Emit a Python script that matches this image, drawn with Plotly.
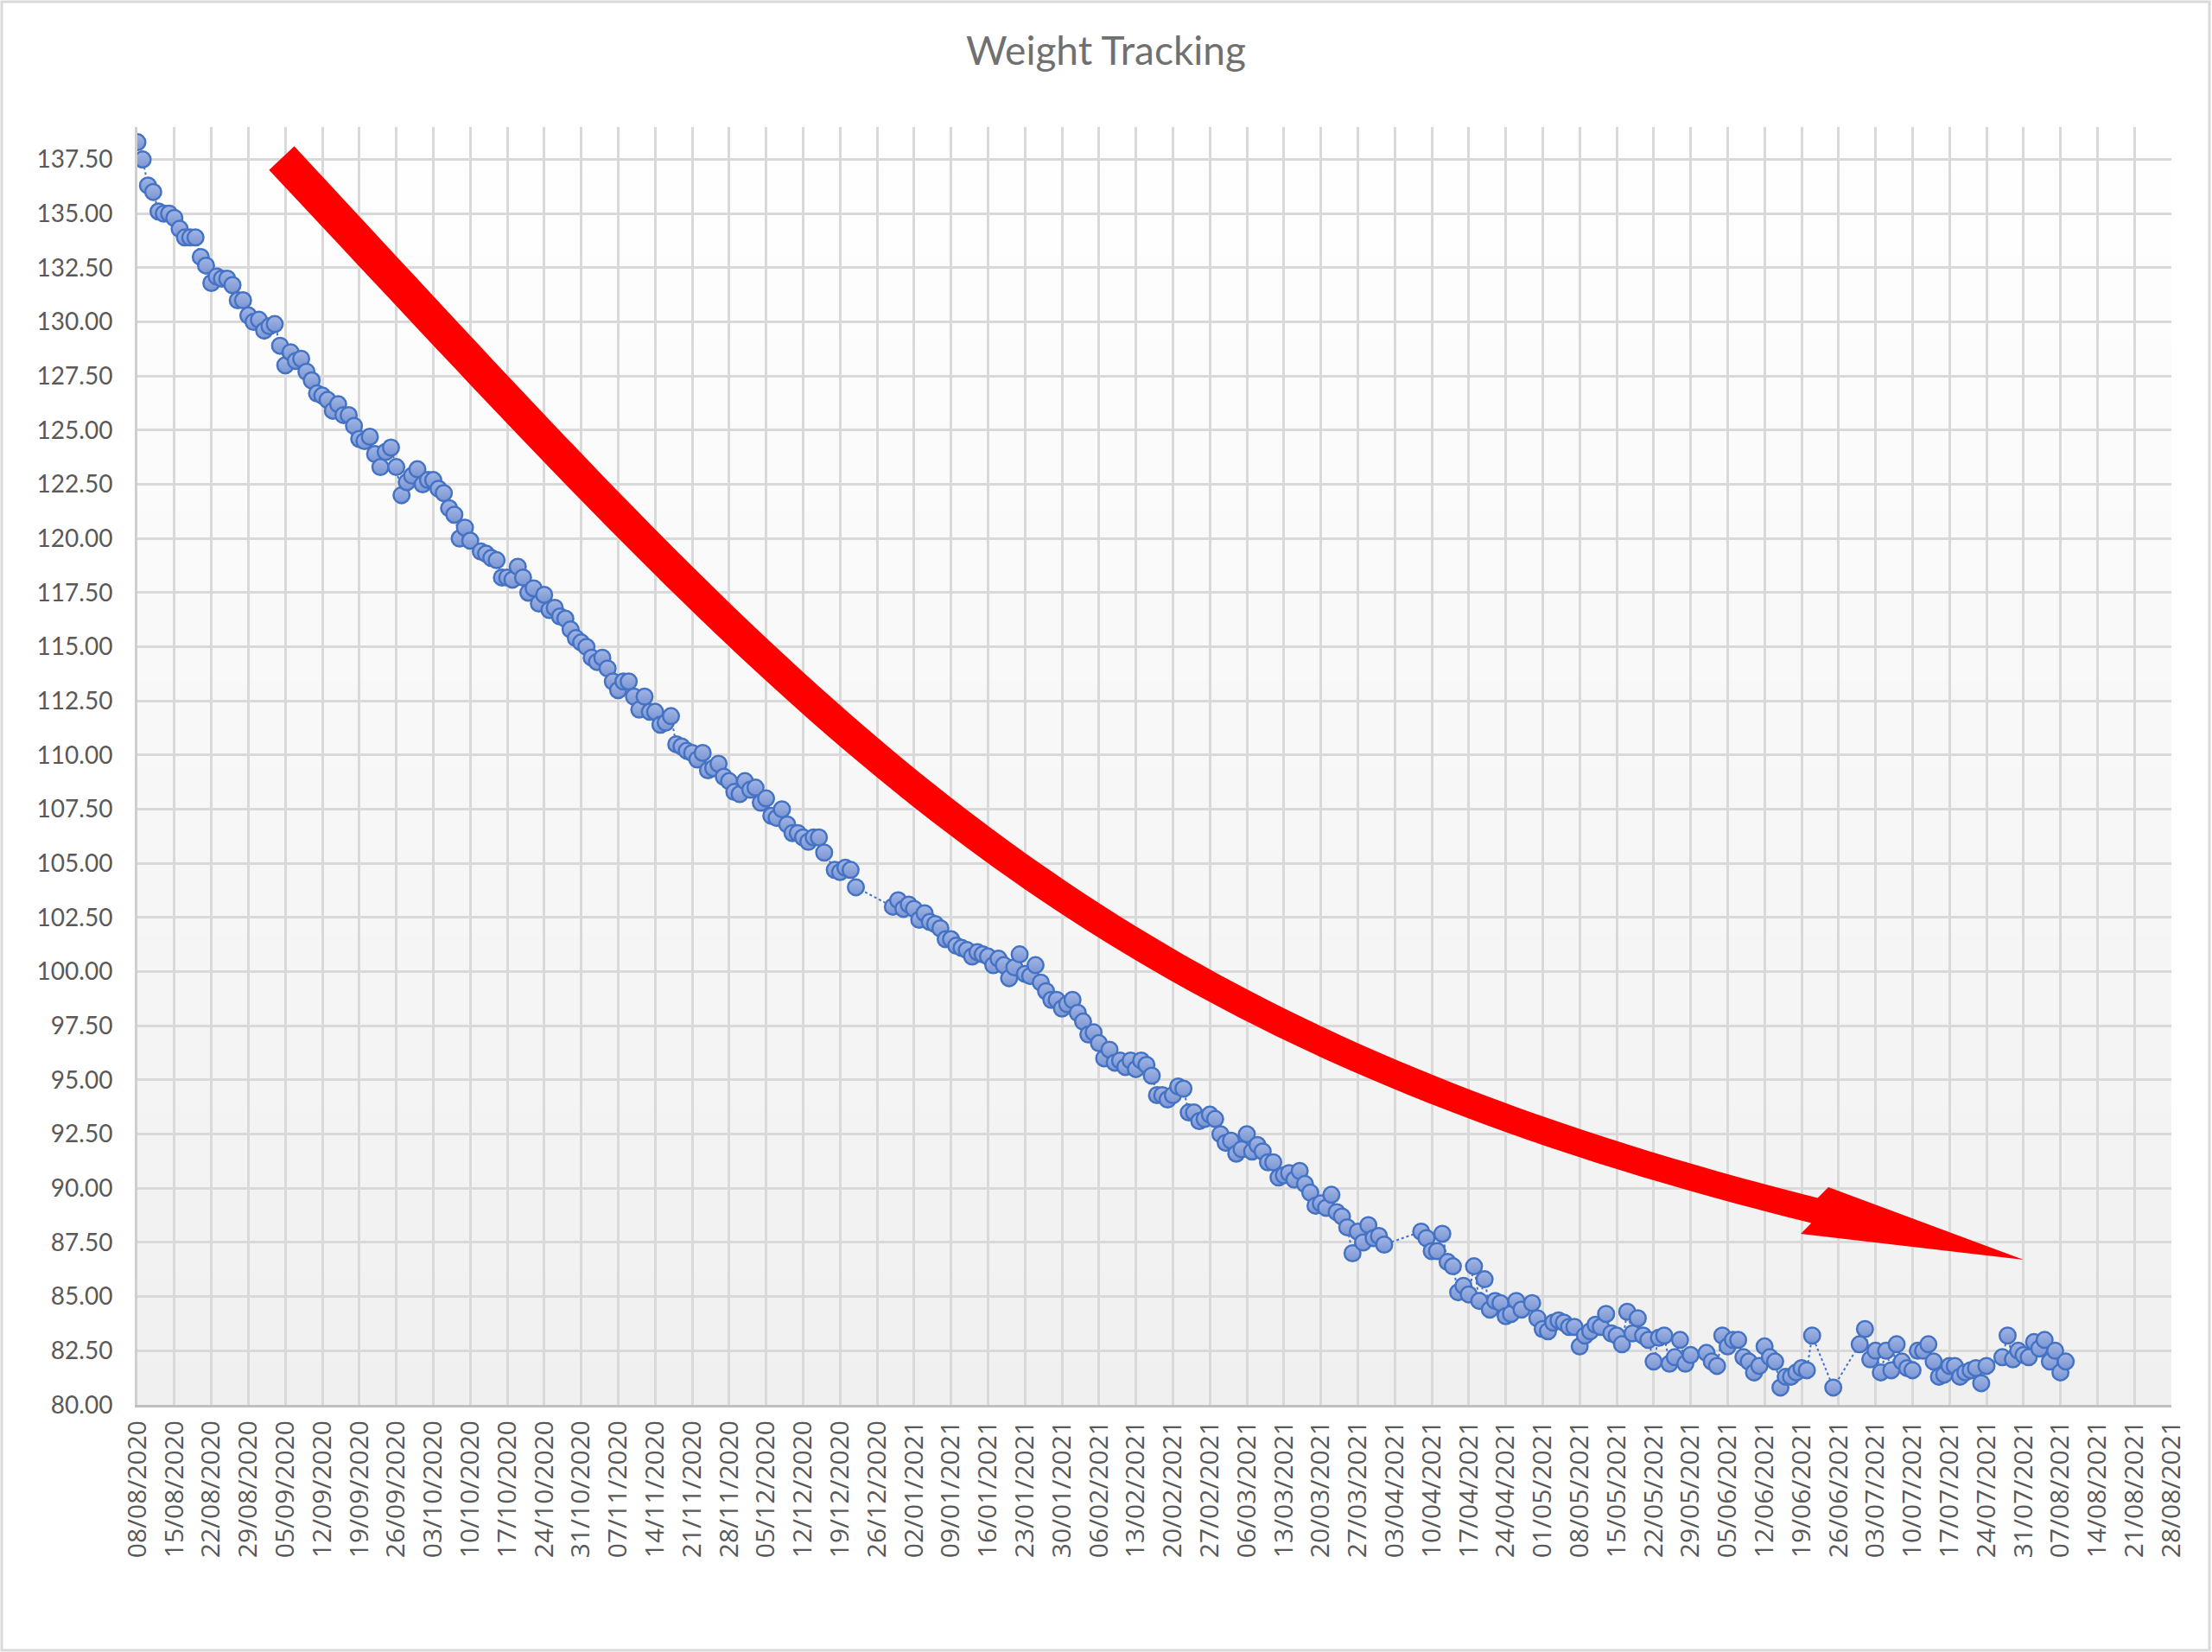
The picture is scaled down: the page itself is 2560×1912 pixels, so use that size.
import numpy as np
import pandas as pd
import plotly.graph_objects as go

# ---------------- data ----------------
start_date = "2020-08-08"
title_text = "Weight Tracking"
x_range = ["2020-08-08", "2021-08-28"]
y_range = [80, 139]
y_tick_step = 2.5
x_tick_days = 7

days_a = [0, 1, 2, 3, 4, 5, 6, 7, 8, 9, 10, 11, 12, 13, 14, 15, 16, 17, 18, 19,
          20, 21, 22, 23, 24, 25, 26, 27, 28, 29, 30, 31, 32, 33, 34, 35, 36, 37, 38, 39,
          40, 41, 42, 43, 44, 45, 46, 47, 48, 49, 50, 51, 52, 53, 54, 55, 56, 57, 58, 59,
          60, 61, 62, 63]
kg_a = [138.3, 137.5, 136.3, 136.0, 135.1, 135.0, 135.0, 134.8, 134.3, 133.9,
        133.9, 133.9, 133.0, 132.6, 131.8, 132.1, 132.0, 132.0, 131.7, 131.0,
        131.0, 130.3, 130.0, 130.1, 129.6, 129.8, 129.9, 128.9, 128.0, 128.6,
        128.2, 128.3, 127.7, 127.3, 126.7, 126.6, 126.4, 125.9, 126.2, 125.7,
        125.7, 125.2, 124.6, 124.5, 124.7, 123.9, 123.3, 124.0, 124.2, 123.3,
        122.0, 122.6, 122.9, 123.2, 122.5, 122.7, 122.7, 122.3, 122.1, 121.4,
        121.1, 120.0, 120.5, 119.9]

days_b = [65, 66, 67, 68, 69, 70, 71, 72, 73, 74,
          75, 76, 77, 78, 79, 80, 81, 82, 83, 84,
          85, 86, 87, 88, 89, 90, 91, 92, 93, 94,
          95, 96, 97, 98, 99, 100, 101, 102, 103, 104,
          105, 106, 107, 108, 109, 110, 111, 112, 113, 114,
          115, 116, 117, 118, 119, 120, 121, 122, 123, 124,
          125, 126, 127, 128, 129, 130,
          132, 133, 134, 135, 136]
kg_b = [119.4, 119.3, 119.1, 119.0, 118.2, 118.2, 118.1, 118.7, 118.2, 117.5,
        117.7, 117.0, 117.4, 116.7, 116.8, 116.4, 116.3, 115.8, 115.4, 115.2,
        115.0, 114.5, 114.3, 114.5, 114.0, 113.4, 113.0, 113.4, 113.4, 112.7,
        112.1, 112.7, 112.0, 112.0, 111.4, 111.5, 111.8, 110.5, 110.4, 110.2,
        110.1, 109.8, 110.1, 109.3, 109.4, 109.6, 109.0, 108.8, 108.3, 108.2,
        108.8, 108.4, 108.5, 107.8, 108.0, 107.2, 107.1, 107.5, 106.8, 106.4,
        106.4, 106.2, 106.0, 106.2, 106.2, 105.5,
        104.7, 104.6, 104.8, 104.7, 103.9]

days_c = [143, 144, 145, 146, 147, 148, 149, 150, 151, 152,
          153, 154, 155, 156, 157, 158, 159, 160, 161, 162,
          163, 164, 165, 166, 167, 168, 169, 170, 171, 172,
          173, 174, 175, 176, 177, 178, 179, 180, 181, 182,
          183, 184, 185, 186, 187, 188, 189, 190, 191, 192,
          193, 194, 195, 196, 197, 198, 199, 200, 201, 202,
          203, 204, 205, 206, 207, 208, 209, 210, 211, 212,
          213, 214, 215, 216, 217, 218, 219, 220, 221, 222,
          223, 224, 225, 226, 227, 228, 229, 230, 231, 232,
          233, 234, 235, 236]
kg_c = [103.0, 103.3, 102.9, 103.1, 102.9, 102.4, 102.7, 102.3, 102.2, 102.0,
        101.5, 101.5, 101.2, 101.1, 101.0, 100.7, 100.9, 100.8, 100.7, 100.3,
        100.6, 100.3, 99.7, 100.2, 100.8, 99.9, 99.8, 100.3, 99.5, 99.1,
        98.7, 98.7, 98.3, 98.5, 98.7, 98.1, 97.7, 97.1, 97.2, 96.7,
        96.0, 96.4, 95.8, 95.9, 95.6, 95.9, 95.5, 95.9, 95.7, 95.2,
        94.3, 94.3, 94.1, 94.3, 94.7, 94.6, 93.5, 93.5, 93.1, 93.2,
        93.4, 93.2, 92.5, 92.1, 92.2, 91.6, 91.8, 92.5, 91.7, 92.0,
        91.7, 91.2, 91.2, 90.5, 90.6, 90.7, 90.4, 90.8, 90.2, 89.8,
        89.2, 89.3, 89.1, 89.7, 88.9, 88.7, 88.2, 87.0, 88.0, 87.5,
        88.3, 87.7, 87.8, 87.4]

days_d = [243, 244, 245, 246, 247, 248, 249, 250, 251, 252,
          253, 254, 255, 256, 257, 258, 259, 260, 261, 262,
          264, 265, 266, 267, 268, 269, 270, 271, 272, 273,
          274, 275, 276, 277, 278, 279, 280, 281, 282, 283,
          284, 285, 286, 287, 288, 289, 290, 291, 292, 293,
          294]
kg_d = [88.0, 87.7, 87.1, 87.1, 87.9, 86.6, 86.4, 85.2, 85.5, 85.1,
        86.4, 84.8, 85.8, 84.4, 84.8, 84.7, 84.1, 84.2, 84.8, 84.4,
        84.7, 84.0, 83.5, 83.4, 83.8, 83.9, 83.8, 83.6, 83.6, 82.7,
        83.2, 83.4, 83.7, 83.6, 84.2, 83.3, 83.2, 82.8, 84.3, 83.3,
        84.0, 83.2, 83.0, 82.0, 83.1, 83.2, 81.9, 82.2, 83.0, 81.9,
        82.3]

days_e = [297, 298, 299, 300, 301, 302, 303, 304, 305, 306,
          307, 308, 309, 310, 311, 312, 313, 314, 315, 316,
          317, 321,
          326, 327, 328, 329, 330, 331, 332, 333, 334, 335,
          336, 337, 338, 339, 340, 341, 342, 343, 344, 345,
          346, 347, 348, 349, 350,
          353, 354, 355, 356, 357, 358, 359, 360, 361, 362,
          363, 364, 365]
kg_e = [82.4, 82.0, 81.8, 83.2, 82.7, 83.0, 83.0, 82.2, 82.0, 81.5,
        81.8, 82.7, 82.2, 82.0, 80.8, 81.3, 81.3, 81.5, 81.7, 81.6,
        83.2, 80.8,
        82.8, 83.5, 82.1, 82.5, 81.5, 82.5, 81.6, 82.8, 82.0, 81.7,
        81.6, 82.5, 82.5, 82.8, 82.0, 81.3, 81.4, 81.8, 81.8, 81.3,
        81.5, 81.6, 81.7, 81.0, 81.8,
        82.2, 83.2, 82.1, 82.5, 82.3, 82.2, 82.9, 82.6, 83.0, 82.0,
        82.5, 81.5, 82.0]

days_since_start = days_a + days_b + days_c + days_d + days_e
weights_kg = kg_a + kg_b + kg_c + kg_d + kg_e
assert len(days_since_start) == len(weights_kg)
dates = pd.Timestamp(start_date) + pd.to_timedelta(days_since_start, unit="D")

# ---------------- geometry / style ----------------
W, H = 2560, 1912
PL, PR, PT, PB = 159, 2513, 147, 1626   # plot area in pixels
GRID = "#D9D9D9"
TXT = "#595959"


def px(x):
    return (x - PL) / (PR - PL)


def py(y):
    return (PB - y) / (PB - PT)


fig = go.Figure()
fig.add_trace(go.Scatter(
    x=dates, y=weights_kg, mode="lines+markers",
    line=dict(color="#4472C4", width=2, dash="dot"),
    marker=dict(size=18.5, color="#A2B6E5",
                gradient=dict(type="vertical", color="#7B95D2"),
                line=dict(color="#4472C4", width=2.5)),
    hovertemplate="%{x|%d/%m/%Y}: %{y:.1f}<extra></extra>",
))

shapes = []
# plot-area vertical gradient (white -> light grey)
n_bands = 60
top_c = np.array([255, 255, 255])
bot_c = np.array([240, 240, 240])
for i in range(n_bands):
    f = (i + 0.5) / n_bands
    c = top_c + (bot_c - top_c) * f
    shapes.append(dict(type="rect", xref="paper", yref="paper",
                       x0=0, x1=1, y0=1 - (i + 1) / n_bands - 0.002, y1=1 - i / n_bands,
                       fillcolor="rgb(%d,%d,%d)" % tuple(c.round().astype(int)),
                       line=dict(width=0), layer="below"))

# red curved arrow (decoration), cubic bezier centreline in pixels
P0 = np.array([326.0, 183.0])
P1 = np.array([940.0, 841.0])
P2 = np.array([1227.0, 1183.0])
P3 = np.array([2100.0, 1401.0])
ts = np.linspace(0, 1, 90)
upper, lower = [], []
for t in ts:
    b = (1 - t) ** 3 * P0 + 3 * (1 - t) ** 2 * t * P1 + 3 * (1 - t) * t ** 2 * P2 + t ** 3 * P3
    d = 3 * (1 - t) ** 2 * (P1 - P0) + 6 * (1 - t) * t * (P2 - P1) + 3 * t ** 2 * (P3 - P2)
    d = d / np.linalg.norm(d)
    n = np.array([d[1], -d[0]])
    hw = 20.0 - 5.0 * t
    upper.append(b + hw * n)
    lower.append(b - hw * n)
head = [np.array([2084.0, 1428.0]), np.array([2342.0, 1458.0]), np.array([2116.0, 1374.0])]
poly = lower + head + upper[::-1]
path = "M " + " L ".join("%.5f,%.5f" % (px(p[0]), py(p[1])) for p in poly) + " Z"
shapes.append(dict(type="path", xref="paper", yref="paper", path=path,
                   fillcolor="#FF0000", line=dict(width=0), layer="above"))

# chart-area border
shapes.append(dict(type="rect", xref="paper", yref="paper",
                   x0=px(2), x1=px(2557), y0=py(1910), y1=py(2),
                   line=dict(color=GRID, width=3), fillcolor="rgba(0,0,0,0)", layer="above"))

fig.update_layout(
    width=W, height=H,
    margin=dict(l=PL, r=W - PR, t=PT, b=H - PB, pad=0),
    paper_bgcolor="white", plot_bgcolor="white",
    showlegend=False,
    shapes=shapes,
    title=dict(text=title_text, x=0.5, xref="container", xanchor="center",
               y=1 - 59 / H, yref="container", yanchor="middle",
               font=dict(family="Lato", size=46, color="#707070")),
    xaxis=dict(type="date", range=x_range, tick0=start_date,
               dtick=x_tick_days * 86400000, tickformat="%d/%m/%Y", tickangle=-90,
               showgrid=True, gridcolor=GRID, gridwidth=2.5,
               showline=True, linecolor="#BFBFBF", linewidth=3,
               ticks="", ticklabelstandoff=3, zeroline=False,
               tickfont=dict(family="Open Sans", size=30, color=TXT)),
    yaxis=dict(range=y_range, tick0=80, dtick=y_tick_step, tickformat=".2f",
               showgrid=True, gridcolor=GRID, gridwidth=2.5,
               showline=True, linecolor="#CFCFCF", linewidth=3,
               ticks="", ticklabelstandoff=20, zeroline=False,
               tickfont=dict(family="Lato", size=28, color=TXT)),
)

fig.write_html("out.html", config={"displayModeBar": False},
               post_script="document.body.style.margin='0px';")
